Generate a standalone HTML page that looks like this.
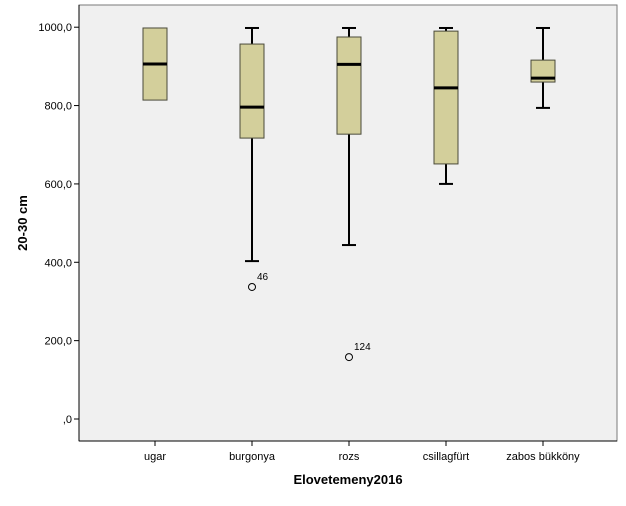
<!DOCTYPE html>
<html><head><meta charset="utf-8"><style>
body{margin:0;background:#fff;font-family:"Liberation Sans",Arial,sans-serif}
svg text{font-family:"Liberation Sans",Arial,sans-serif}
</style></head><body>
<svg id="chart" width="626" height="501" xmlns="http://www.w3.org/2000/svg">
<rect x="79" y="5" width="538" height="436" fill="#f0f0f0" stroke="#7a7a7a" stroke-width="1"/>
<line x1="79" y1="441" x2="617" y2="441" stroke="#000"/>
<line x1="79" y1="5" x2="79" y2="441" stroke="#000"/>
<g id="yticks"></g>
<g id="xticks"></g>
<g id="boxes"></g>
<text transform="translate(27,223) rotate(-90)" text-anchor="middle" font-size="13" font-weight="bold">20-30 cm</text>
<text x="348" y="484" text-anchor="middle" font-size="13" font-weight="bold">Elovetemeny2016</text>
</svg>
<script>
const categories=["ugar","burgonya","rozs","csillagfürt","zabos bükköny"];
const mins=[814,403,444,600,794];
const q1s=[814,717,727,651,860];
const medians=[906,796,905,845,870];
const q3s=[998,957,975,990,916];
const maxs=[998,998,998,998,998];
const outlierCat=[1,2];
const outlierVal=[337,158];
const outlierLbl=["46","124"];
const yTicks=[0,200,400,600,800,1000];
const yTickLabels=[",0","200,0","400,0","600,0","800,0","1000,0"];
const NS="http://www.w3.org/2000/svg";
function y(v){return 419-v*0.3918;}
function x(i){return 155+i*97;}
function mk(tag,attrs,parent){const e=document.createElementNS(NS,tag);for(const k in attrs)e.setAttribute(k,attrs[k]);parent.appendChild(e);return e;}
const yt=document.getElementById('yticks'),xt=document.getElementById('xticks'),bx=document.getElementById('boxes');
yTicks.forEach((v,i)=>{
 const l=mk('line',{x1:74,x2:79,y1:y(v),y2:y(v),stroke:'#000'},yt);
 
 
 const t=mk('text',{x:72,y:y(v)+4,'text-anchor':'end','font-size':'11'},yt);
 
 
 t.textContent=yTickLabels[i];
});
categories.forEach((c,i)=>{
 const l=mk('line',{x1:x(i),x2:x(i),y1:441,y2:446,stroke:'#000'},xt);
 
 
 const t=mk('text',{x:x(i),y:460,'text-anchor':'middle','font-size':'11'},xt);
 
 
 t.textContent=c;
 const g=mk('g',{},bx);
 
 
 const cx=x(i),hw=12;
 if(maxs[i]>q3s[i]){mk('line',{x1:cx,x2:cx,y1:y(maxs[i]),y2:y(q3s[i]),stroke:'#000','stroke-width':2},g);}
 if(mins[i]<q1s[i]){mk('line',{x1:cx,x2:cx,y1:y(q1s[i]),y2:y(mins[i]),stroke:'#000','stroke-width':2},g);}
 if(maxs[i]>q3s[i])mk('line',{x1:cx-7,x2:cx+7,y1:y(maxs[i]),y2:y(maxs[i]),stroke:'#000','stroke-width':2},g);
 if(mins[i]<q1s[i])mk('line',{x1:cx-7,x2:cx+7,y1:y(mins[i]),y2:y(mins[i]),stroke:'#000','stroke-width':2},g);
 mk('rect',{x:cx-hw,y:y(q3s[i]),width:hw*2,height:y(q1s[i])-y(q3s[i]),fill:'#d3cf9b',stroke:'#4a4a3a','stroke-width':1},g);
 mk('line',{x1:cx-hw,x2:cx+hw,y1:y(medians[i]),y2:y(medians[i]),stroke:'#000','stroke-width':3},g);
});
outlierCat.forEach((ci,k)=>{
 const c=mk('circle',{cx:x(ci),cy:y(outlierVal[k]),r:3.5,fill:'none',stroke:'#000'},bx);
 
 
 const t=mk('text',{x:x(ci)+5,y:y(outlierVal[k])-7,'font-size':'10'},bx);
 
 
 t.textContent=outlierLbl[k];
});
</script>
</body></html>
